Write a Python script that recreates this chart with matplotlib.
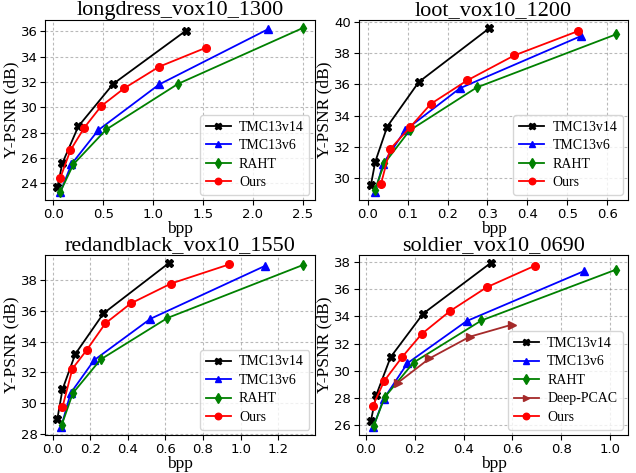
import matplotlib
matplotlib.use('Agg')
import matplotlib.pyplot as plt
import numpy as np

# longdress
ld_v14_x = [0.04, 0.09, 0.25, 0.60, 1.33]
ld_v14_y = [23.7, 25.6, 28.5, 31.85, 36.05]
ld_v6_x = [0.07, 0.18, 0.45, 1.06, 2.15]
ld_v6_y = [23.3, 25.5, 28.2, 31.8, 36.15]
ld_raht_x = [0.07, 0.20, 0.53, 1.25, 2.50]
ld_raht_y = [23.35, 25.5, 28.25, 31.85, 36.25]
ld_ours_x = [0.07, 0.17, 0.31, 0.48, 0.71, 1.06, 1.53]
ld_ours_y = [24.45, 26.6, 28.4, 30.1, 31.5, 33.2, 34.7]

# loot
lt_v14_x = [0.008, 0.019, 0.049, 0.128, 0.305]
lt_v14_y = [29.55, 31.05, 33.3, 36.15, 39.6]
lt_v6_x = [0.019, 0.038, 0.093, 0.231, 0.535]
lt_v6_y = [29.1, 30.9, 33.05, 35.75, 39.1]
lt_raht_x = [0.018, 0.042, 0.105, 0.273, 0.622]
lt_raht_y = [29.25, 30.95, 33.05, 35.8, 39.2]
lt_ours_x = [0.033, 0.056, 0.106, 0.158, 0.249, 0.367, 0.526]
lt_ours_y = [29.6, 31.85, 33.25, 34.75, 36.25, 37.85, 39.4]

# redandblack
rb_v14_x = [0.025, 0.052, 0.12, 0.27, 0.62]
rb_v14_y = [29.0, 30.9, 33.2, 35.85, 39.15]
rb_v6_x = [0.045, 0.095, 0.22, 0.52, 1.13]
rb_v6_y = [28.45, 30.65, 32.8, 35.5, 38.95]
rb_raht_x = [0.047, 0.107, 0.255, 0.61, 1.33]
rb_raht_y = [28.55, 30.65, 32.85, 35.55, 39.0]
rb_ours_x = [0.052, 0.105, 0.18, 0.28, 0.415, 0.63, 0.94]
rb_ours_y = [29.75, 32.25, 33.45, 35.2, 36.5, 37.8, 39.05]

# soldier
so_v14_x = [0.020, 0.042, 0.101, 0.234, 0.512]
so_v14_y = [26.3, 28.2, 31.0, 34.2, 37.95]
so_v6_x = [0.030, 0.072, 0.17, 0.412, 0.895]
so_v6_y = [25.85, 27.9, 30.55, 33.65, 37.35]
so_raht_x = [0.032, 0.077, 0.195, 0.473, 1.025]
so_raht_y = [25.95, 28.05, 30.6, 33.7, 37.45]
so_pcac_x = [0.13, 0.26, 0.425, 0.60]
so_pcac_y = [29.1, 30.9, 32.5, 33.4]
so_ours_x = [0.028, 0.075, 0.148, 0.228, 0.345, 0.495, 0.694]
so_ours_y = [27.4, 29.25, 31.0, 32.7, 34.4, 36.15, 37.75]

serif = 'Liberation Serif'


def panel(ax, title, series, xticks, yticks):
    for x, y, c, m, lab in series:
        ax.plot(x, y, color=c, marker=m, markersize=5.5, linewidth=1.3, label=lab)
    ax.set_title(title, fontfamily=serif, fontsize=16, pad=2)
    ax.set_xlabel('bpp', fontfamily=serif, fontsize=12.5, labelpad=0)
    ax.set_ylabel('Y-PSNR (dB)', fontfamily=serif, fontsize=12.5, labelpad=1)
    ax.set_xticks(xticks)
    ax.set_xticklabels(['%.1f' % t for t in xticks])
    ax.set_yticks(yticks)
    ax.grid(True, linestyle=(0, (2.5, 2)), color='gray', alpha=0.55, linewidth=0.8)
    ax.tick_params(labelsize=9.5, pad=2)
    ax.legend(loc='lower right', prop={'family': serif, 'size': 10},
              handlelength=1.8, borderaxespad=0.4, labelspacing=0.4,
              handletextpad=0.6, markerscale=0.85)


fig, axs = plt.subplots(2, 2, figsize=(6.36, 4.73), dpi=100)

panel(axs[0, 0], 'longdress_vox10_1300', [
    (ld_v14_x, ld_v14_y, 'black', 'X', 'TMC13v14'),
    (ld_v6_x, ld_v6_y, 'blue', '^', 'TMC13v6'),
    (ld_raht_x, ld_raht_y, 'green', 'd', 'RAHT'),
    (ld_ours_x, ld_ours_y, 'red', 'o', 'Ours'),
], np.arange(0, 2.51, 0.5), [24, 26, 28, 30, 32, 34, 36])

panel(axs[0, 1], 'loot_vox10_1200', [
    (lt_v14_x, lt_v14_y, 'black', 'X', 'TMC13v14'),
    (lt_v6_x, lt_v6_y, 'blue', '^', 'TMC13v6'),
    (lt_raht_x, lt_raht_y, 'green', 'd', 'RAHT'),
    (lt_ours_x, lt_ours_y, 'red', 'o', 'Ours'),
], np.arange(0, 0.61, 0.1), [30, 32, 34, 36, 38, 40])

panel(axs[1, 0], 'redandblack_vox10_1550', [
    (rb_v14_x, rb_v14_y, 'black', 'X', 'TMC13v14'),
    (rb_v6_x, rb_v6_y, 'blue', '^', 'TMC13v6'),
    (rb_raht_x, rb_raht_y, 'green', 'd', 'RAHT'),
    (rb_ours_x, rb_ours_y, 'red', 'o', 'Ours'),
], np.arange(0, 1.21, 0.2), [28, 30, 32, 34, 36, 38])

panel(axs[1, 1], 'soldier_vox10_0690', [
    (so_v14_x, so_v14_y, 'black', 'X', 'TMC13v14'),
    (so_v6_x, so_v6_y, 'blue', '^', 'TMC13v6'),
    (so_raht_x, so_raht_y, 'green', 'd', 'RAHT'),
    (so_pcac_x, so_pcac_y, 'brown', '>', 'Deep-PCAC'),
    (so_ours_x, so_ours_y, 'red', 'o', 'Ours'),
], np.arange(0, 1.01, 0.2), [26, 28, 30, 32, 34, 36, 38])

plt.subplots_adjust(left=0.071, right=0.988, top=0.958, bottom=0.08,
                    wspace=0.162, hspace=0.30)
plt.savefig('out.png')
